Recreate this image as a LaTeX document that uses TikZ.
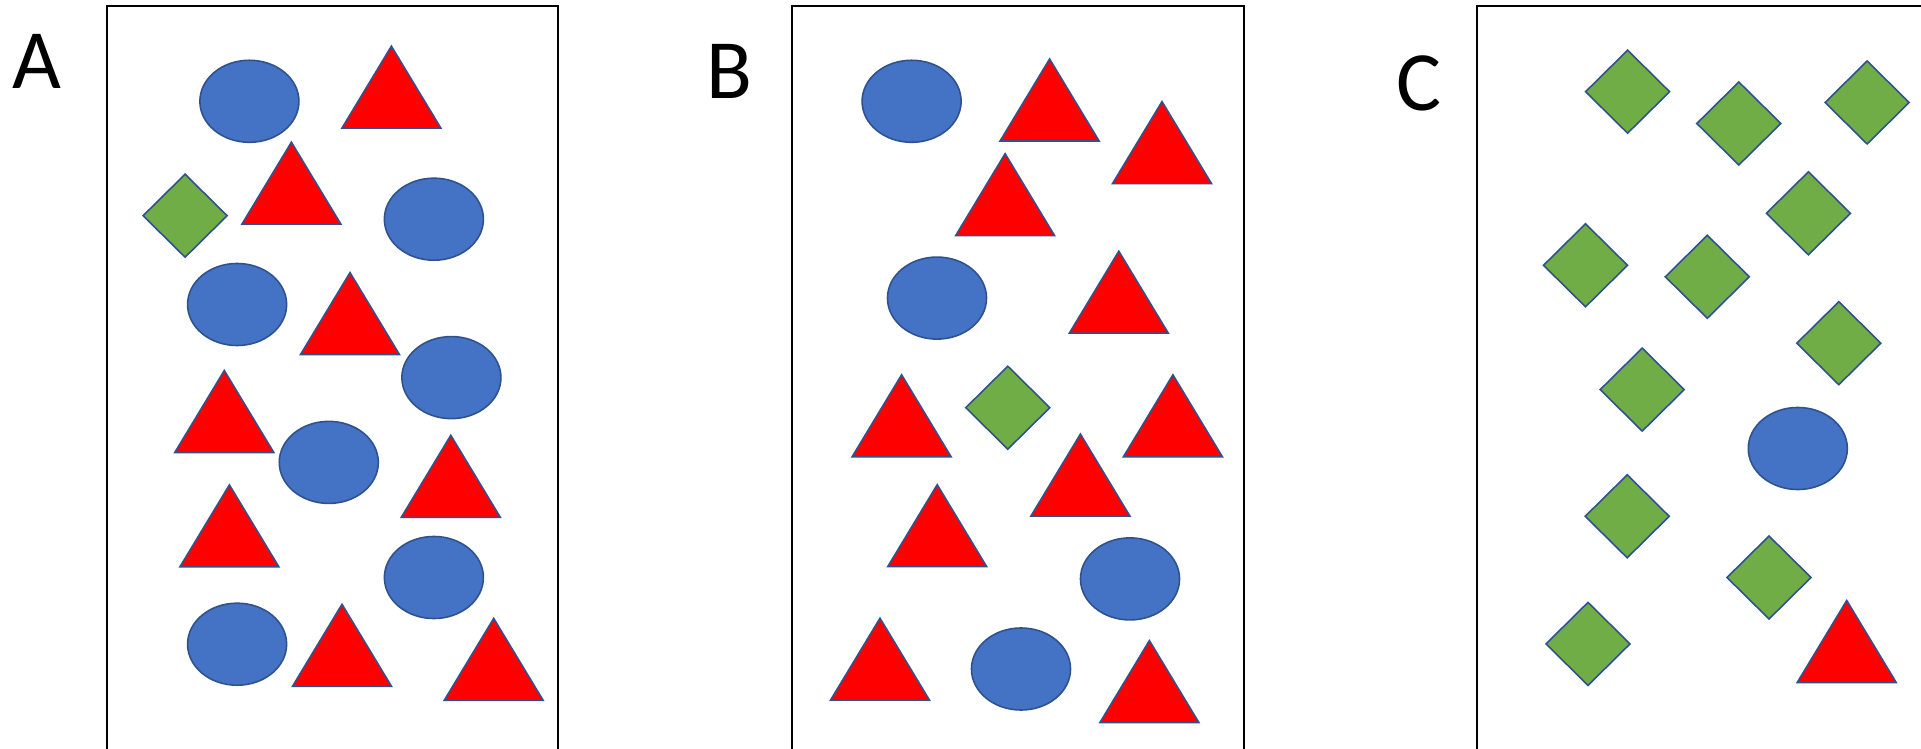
\documentclass[tikz,border=0pt]{standalone}
\usepackage{fontspec}
\setmainfont{Carlito}
\definecolor{shapeblue}{HTML}{4472C4}
\definecolor{shapered}{HTML}{FF0000}
\definecolor{shapegreen}{HTML}{70AD47}
\definecolor{outlineblue}{HTML}{2F528F}
\tikzset{
  panelbox/.style={draw=black, line width=0.6pt},
  panellabel/.style={anchor=base, inner sep=0pt, font=\fontsize{24}{28}\selectfont},
  shapeline/.style={draw=outlineblue, line width=0.45pt, line join=miter},
  tri/.pic={\path[shapeline, fill=shapered] (-49.5,41) -- (0,-41) -- (49.5,41) -- cycle;},
  ell/.pic={\path[shapeline, fill=shapeblue] (0,0) ellipse [x radius=0.495cm, y radius=0.41cm];},
  dia/.pic={\path[shapeline, fill=shapegreen] (-42,0) -- (0,-41.5) -- (42,0) -- (0,41.5) -- cycle;}
}
\begin{document}
\begin{tikzpicture}[x=0.01cm, y=-0.01cm]
\path[use as bounding box, clip] (0,0) rectangle (1921,749);
\fill[white] (0,0) rectangle (1921,749);
% panel boxes
\draw[panelbox] (107.3,5.7) rectangle (558.4,800);
\draw[panelbox] (792.2,5.7) rectangle (1243.7,800);
\draw[panelbox] (1477.1,5.7) rectangle (1960,800);
% labels
\node[panellabel] (labA) at (36.8,88.4) {A};
\node[panellabel] (labB) at (729.8,98.9) {B};
\node[panellabel] (labC) at (1419.4,110.5) {C};
% panel A
\pic at (249.4,101.3) {ell};
\pic at (391.4,87.2) {tri};
\pic at (185.1,215.7) {dia};
\pic at (291.4,183.2) {tri};
\pic at (433.9,219.2) {ell};
\pic at (237.1,304.5) {ell};
\pic at (350,313.6) {tri};
\pic at (451.4,377.6) {ell};
\pic at (224.3,411.5) {tri};
\pic at (328.8,462.4) {ell};
\pic at (450.8,476.3) {tri};
\pic at (229.4,525.9) {tri};
\pic at (433.9,577.5) {ell};
\pic at (237.1,644.2) {ell};
\pic at (342,645.3) {tri};
\pic at (493.7,659.4) {tri};
% panel B
\pic at (911.6,101.3) {ell};
\pic at (1049.6,100.0) {tri};
\pic at (1162,142.6) {tri};
\pic at (1005.1,194.7) {tri};
\pic at (937,298.1) {ell};
\pic at (1118.8,292.2) {tri};
\pic at (901.6,415.8) {tri};
\pic at (1007.8,407.7) {dia};
\pic at (1172.9,415.8) {tri};
\pic at (1080.4,475.1) {tri};
\pic at (937.2,525.7) {tri};
\pic at (1130,578.9) {ell};
\pic at (880,659.2) {tri};
\pic at (1021,669) {ell};
\pic at (1149.4,681.6) {tri};
% panel C
\pic at (1627.6,91.7) {dia};
\pic at (1738.8,123.5) {dia};
\pic at (1867.1,102.5) {dia};
\pic at (1808.4,213.3) {dia};
\pic at (1585.5,265.3) {dia};
\pic at (1707.3,276.8) {dia};
\pic at (1838.8,343.2) {dia};
\pic at (1642.2,389.6) {dia};
\pic at (1797.8,448.5) {ell};
\pic at (1627.2,516.3) {dia};
\pic at (1769,577.5) {dia};
\pic at (1588,643.9) {dia};
\pic at (1846.7,641.5) {tri};
\end{tikzpicture}
\end{document}
